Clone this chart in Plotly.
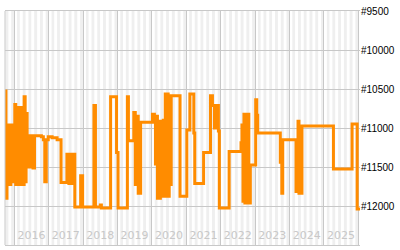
import plotly.graph_objects as go
import pandas as pd

dates = [
    "2015-09-26", "2015-10-06", "2015-10-17", "2015-10-27", "2015-11-07", "2015-11-17",
    "2015-11-27", "2015-12-08", "2015-12-18", "2015-12-29", "2016-01-08", "2016-01-18",
    "2016-01-29", "2016-02-08", "2016-02-19", "2016-02-29", "2016-03-11", "2016-03-21",
    "2016-04-01", "2016-04-16", "2016-04-27", "2016-05-07", "2016-05-18", "2016-05-28",
    "2016-06-08", "2016-06-18", "2016-06-29", "2016-07-09", "2016-07-19", "2016-08-04",
    "2016-10-16", "2016-11-06", "2016-11-21", "2016-12-07", "2016-12-28", "2017-02-07",
    "2017-04-01", "2017-05-13", "2017-07-14", "2017-08-04", "2017-08-15", "2017-08-25",
    "2017-09-05", "2017-09-15", "2017-09-25", "2017-10-06", "2017-12-07", "2017-12-28",
    "2018-04-27", "2018-05-13", "2018-07-04", "2018-07-15", "2018-10-21", "2018-12-23",
    "2019-01-08", "2019-04-17", "2019-04-28", "2019-06-24", "2019-07-10", "2019-07-20",
    "2019-08-10", "2019-09-05", "2020-01-08", "2020-01-29", "2020-02-09", "2020-02-19",
    "2020-03-01", "2020-03-11", "2020-03-21", "2020-04-01", "2020-04-22", "2020-05-02",
    "2020-05-13", "2020-05-23", "2020-06-02", "2020-06-13", "2020-06-23", "2020-07-04",
    "2020-07-14", "2020-07-25", "2020-10-27", "2021-01-07", "2021-02-08", "2021-03-22",
    "2021-04-01", "2021-07-04", "2021-09-15", "2021-10-06", "2021-10-27", "2021-11-06",
    "2021-11-17", "2021-11-27", "2021-12-08", "2021-12-18", "2022-04-01", "2022-08-05",
    "2022-08-15", "2022-08-26", "2022-09-05", "2022-09-15", "2022-09-26", "2022-10-06",
    "2022-10-17", "2022-10-27", "2022-11-12", "2023-01-08", "2023-01-19", "2023-01-29",
    "2023-09-26", "2023-10-12", "2023-10-22", "2024-03-11", "2024-04-01", "2024-04-11",
    "2024-05-13", "2025-04-12", "2025-10-27", "2025-12-20", "2026-01-19",
]

ranks = [
    10525, 11900, 11000, 11725, 10962, 11725,
    10962, 11688, 10962, 11625, 10700, 11725,
    10813, 10738, 11725, 10738, 11688, 10738,
    11725, 10600, 11688, 10813, 11500, 11100,
    11500, 11100, 11500, 11100, 11513, 11100,
    11113, 11150, 11688, 11150, 11113, 11125,
    11150, 11700, 11338, 11713, 11338, 11713,
    11338, 11713, 11338, 12013, 11613, 12013,
    10713, 12013, 11988, 12025, 10600, 11313,
    12025, 10600, 11163, 10800, 11725, 10850,
    11838, 10925, 10825, 10850, 11463, 10850,
    11900, 10938, 11900, 10913, 11875, 10900,
    11438, 10563, 11875, 10563, 11875, 10588,
    11725, 10588, 11875, 11025, 10563, 11063,
    11713, 11313, 10588, 10713, 11000, 10713,
    11000, 10713, 11038, 12025, 11300, 11188,
    10963, 11938, 10825, 11963, 10938, 11963,
    10825, 11963, 11475, 10638, 10838, 11063,
    11438, 11838, 11150, 11813, 10913, 11838,
    10975, 11525, 10950, 12038, 12038,
]

x_range = ["2015-09-26", "2026-01-19"]
y_ticks = [9500, 10000, 10500, 11000, 11500, 12000, 12500]
y_tick_text = ["#9500", "#10000", "#10500", "#11000", "#11500", "#12000", "#12500"]

GRID = "#c8c8c8"

fig = go.Figure()
fig.add_trace(go.Scatter(
    x=pd.to_datetime(dates), y=ranks, mode="lines",
    line=dict(color="#ff8c00", width=3, shape="hv"),
    hoverinfo="skip", showlegend=False,
))

# alternating monthly background bands
shapes = []
months = pd.date_range("2015-08-01", "2026-03-01", freq="MS")
for i in range(len(months) - 1):
    if months[i].month % 2 == 0:
        shapes.append(dict(type="rect", xref="x", yref="paper",
                           x0=months[i], x1=months[i + 1], y0=0, y1=1,
                           fillcolor="#efefef", line=dict(width=0), layer="below"))
shapes.append(dict(type="line", xref="paper", yref="paper", x0=0, x1=0, y0=0, y1=1,
                   line=dict(color=GRID, width=1)))

fig.update_layout(
    width=400, height=250,
    margin=dict(l=5, r=35, t=5, b=5),
    paper_bgcolor="white", plot_bgcolor="white",
    shapes=shapes,
    xaxis=dict(
        type="date", range=x_range,
        dtick="M12", tick0="2016-01-01", tickformat="%Y",
        ticklabelmode="period", ticklabelposition="inside",
        ticklabelstandoff=3,
        tickfont=dict(family="DejaVu Sans", size=11, color="#c8c8c8"),
        showgrid=True, gridcolor=GRID, gridwidth=1,
        showline=True, mirror=True, linecolor=GRID, linewidth=1,
        ticks="", zeroline=False,
    ),
    yaxis=dict(
        range=[12500, 9500], side="right",
        tickmode="array", tickvals=y_ticks, ticktext=y_tick_text,
        tickfont=dict(family="Liberation Sans", size=10, color="black"),
        showgrid=True, gridcolor=GRID, gridwidth=1,
        ticks="", zeroline=False, showline=False,
    ),
)

fig.write_html("out.html")
